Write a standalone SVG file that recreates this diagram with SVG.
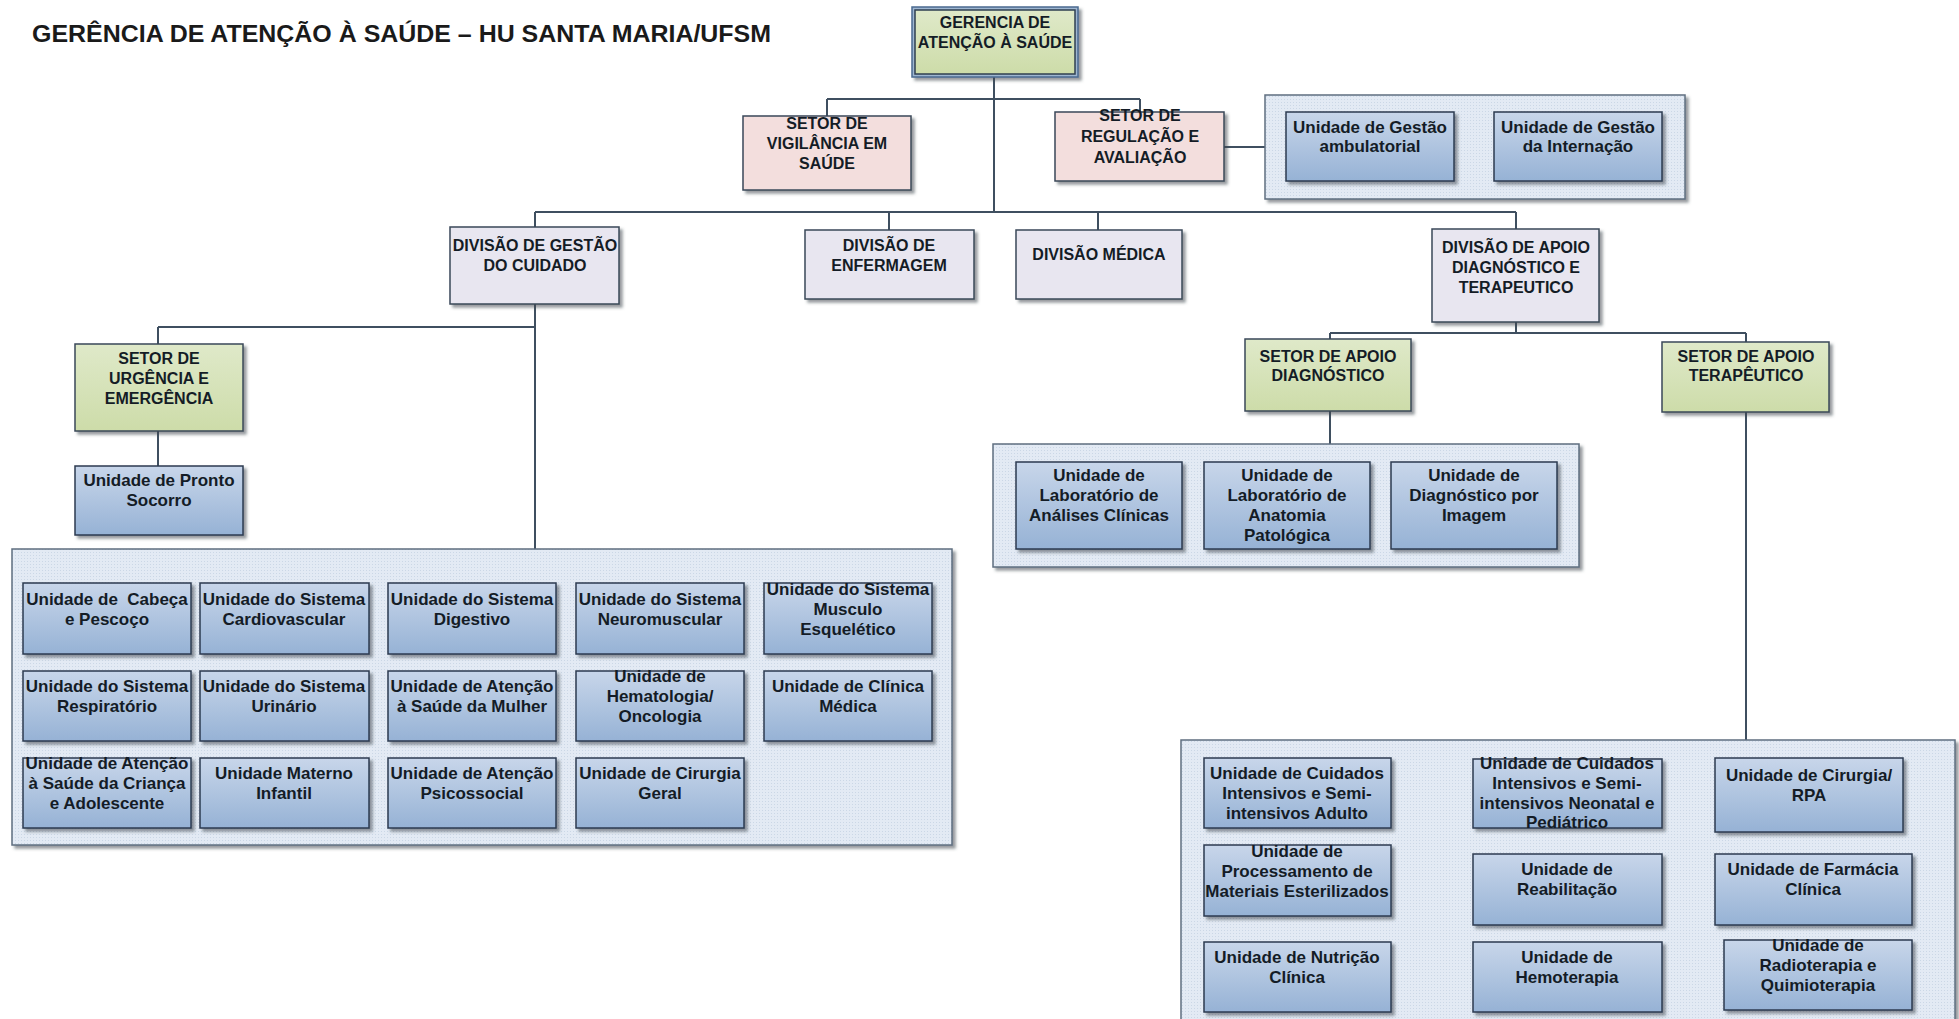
<svg xmlns="http://www.w3.org/2000/svg" width="1959" height="1019" viewBox="0 0 1959 1019">
<style>
.t{font-family:"Liberation Sans",Arial,sans-serif;font-weight:bold;font-size:17px;text-anchor:middle;fill:#141c26}
.h{font-family:"Liberation Sans",Arial,sans-serif;font-weight:bold;font-size:16px;text-anchor:middle;fill:#141c26}
.unit{fill:url(#gBlue);stroke:#2b3b50;stroke-width:1.5;filter:url(#sh)}
.green{fill:url(#gGreen);stroke:#3a4858;stroke-width:1.5;filter:url(#sh)}
.pink{fill:#f3dedd;stroke:#3a4858;stroke-width:1.5;filter:url(#sh)}
.lav{fill:#e8e6f0;stroke:#3a4858;stroke-width:1.5;filter:url(#sh)}
.grp{fill:url(#dots);stroke:#5f6f80;stroke-width:1.5;filter:url(#sh)}
.c{fill:none;stroke:#3f4f60;stroke-width:2}
</style>
<defs>
<linearGradient id="gBlue" x1="0" y1="0" x2="0" y2="1"><stop offset="0" stop-color="#c8d6ea"/><stop offset="1" stop-color="#96b2d5"/></linearGradient>
<linearGradient id="gGreen" x1="0" y1="0" x2="0" y2="1"><stop offset="0" stop-color="#dfe9c9"/><stop offset="1" stop-color="#cddca9"/></linearGradient>
<pattern id="dots" width="3" height="3" patternUnits="userSpaceOnUse"><rect width="3" height="3" fill="#e3eaf4"/><rect width="1" height="1" fill="#cbd7e6"/></pattern>
<filter id="sh" x="-10%" y="-10%" width="130%" height="130%"><feDropShadow dx="3" dy="3" stdDeviation="1.5" flood-color="#404850" flood-opacity="0.55"/></filter>
</defs>
<rect width="1959" height="1019" fill="#ffffff"/>
<text x="32" y="42" style="font-family:'Liberation Sans',Arial,sans-serif;font-weight:bold;font-size:24px;fill:#1a1a1a" textLength="739" lengthAdjust="spacingAndGlyphs">GERÊNCIA DE ATENÇÃO À SAÚDE – HU SANTA MARIA/UFSM</text>

<g id="connectors">
<path class="c" d="M994 77V212M827 99H1140M827 99V116M1140 99V112M1224 147H1265"/>
<path class="c" d="M535 212H1516M535 212V227M889 212V230M1098 212V230M1516 212V229"/>
<path class="c" d="M535 304V549M158 327H535M158 327V344M158 431V466"/>
<path class="c" d="M1516 322V333M1330 333H1746M1330 333V339M1746 333V342M1330 411V444M1746 412V740"/>
</g>

<g id="gerencia"><rect x="912" y="7" width="166" height="70" fill="#9fb6d0" stroke="#4a6a90" stroke-width="1.5" filter="url(#sh)"/><rect x="915" y="10" width="160" height="64" fill="url(#gGreen)" stroke="#2f3f50" stroke-width="1.5"/><text class="h" x="995" y="28">GERENCIA DE<tspan x="995" dy="20">ATENÇÃO À SAÚDE</tspan></text></g>

<g id="vigilancia"><rect class="pink" x="743" y="116" width="168" height="74"/><text class="h" x="827" y="129">SETOR DE<tspan x="827" dy="20">VIGILÂNCIA EM</tspan><tspan x="827" dy="20">SAÚDE</tspan></text></g>
<g id="regulacao"><rect class="pink" x="1055" y="112" width="169" height="69"/><text class="h" x="1140" y="121">SETOR DE<tspan x="1140" dy="21">REGULAÇÃO E</tspan><tspan x="1140" dy="21">AVALIAÇÃO</tspan></text></g>

<g id="grupo-gestao"><rect class="grp" x="1265" y="95" width="420" height="104"/></g>
<g id="u-ambulatorial"><rect class="unit" x="1286" y="112" width="168" height="69"/><text class="t" x="1370" y="133">Unidade de Gestão<tspan x="1370" dy="19">ambulatorial</tspan></text></g>
<g id="u-internacao"><rect class="unit" x="1494" y="112" width="168" height="69"/><text class="t" x="1578" y="133">Unidade de Gestão<tspan x="1578" dy="19">da Internação</tspan></text></g>

<g id="div-gestao"><rect class="lav" x="450" y="227" width="169" height="77"/><text class="h" x="535" y="251">DIVISÃO DE GESTÃO<tspan x="535" dy="20">DO CUIDADO</tspan></text></g>
<g id="div-enfermagem"><rect class="lav" x="805" y="230" width="169" height="69"/><text class="h" x="889" y="251">DIVISÃO DE<tspan x="889" dy="20">ENFERMAGEM</tspan></text></g>
<g id="div-medica"><rect class="lav" x="1016" y="230" width="166" height="69"/><text class="h" x="1099" y="260">DIVISÃO MÉDICA</text></g>
<g id="div-apoio"><rect class="lav" x="1432" y="229" width="167" height="93"/><text class="h" x="1516" y="253">DIVISÃO DE APOIO<tspan x="1516" dy="20">DIAGNÓSTICO E</tspan><tspan x="1516" dy="20">TERAPEUTICO</tspan></text></g>

<g id="setor-urgencia"><rect class="green" x="75" y="344" width="168" height="87"/><text class="h" x="159" y="364">SETOR DE<tspan x="159" dy="20">URGÊNCIA E</tspan><tspan x="159" dy="20">EMERGÊNCIA</tspan></text></g>
<g id="u-pronto-socorro"><rect class="unit" x="75" y="466" width="168" height="69"/><text class="t" x="159" y="486">Unidade de Pronto<tspan x="159" dy="20">Socorro</tspan></text></g>

<g id="grupo-cuidado"><rect class="grp" x="12" y="549" width="940" height="296"/></g>
<g id="u-cabeca"><rect class="unit" x="23" y="583" width="168" height="71"/><text class="t" x="107" y="605">Unidade de&#160; Cabeça<tspan x="107" dy="20">e Pescoço</tspan></text></g>
<g id="u-cardio"><rect class="unit" x="200" y="583" width="169" height="71"/><text class="t" x="284" y="605">Unidade do Sistema<tspan x="284" dy="20">Cardiovascular</tspan></text></g>
<g id="u-digestivo"><rect class="unit" x="388" y="583" width="168" height="71"/><text class="t" x="472" y="605">Unidade do Sistema<tspan x="472" dy="20">Digestivo</tspan></text></g>
<g id="u-neuro"><rect class="unit" x="576" y="583" width="168" height="71"/><text class="t" x="660" y="605">Unidade do Sistema<tspan x="660" dy="20">Neuromuscular</tspan></text></g>
<g id="u-musculo"><rect class="unit" x="764" y="583" width="168" height="71"/><text class="t" x="848" y="595">Unidade do Sistema<tspan x="848" dy="20">Musculo</tspan><tspan x="848" dy="20">Esquelético</tspan></text></g>
<g id="u-respiratorio"><rect class="unit" x="23" y="671" width="168" height="70"/><text class="t" x="107" y="692">Unidade do Sistema<tspan x="107" dy="20">Respiratório</tspan></text></g>
<g id="u-urinario"><rect class="unit" x="200" y="671" width="169" height="70"/><text class="t" x="284" y="692">Unidade do Sistema<tspan x="284" dy="20">Urinário</tspan></text></g>
<g id="u-mulher"><rect class="unit" x="388" y="671" width="168" height="70"/><text class="t" x="472" y="692">Unidade de Atenção<tspan x="472" dy="20">à Saúde da Mulher</tspan></text></g>
<g id="u-hemato"><rect class="unit" x="576" y="671" width="168" height="70"/><text class="t" x="660" y="682">Unidade de<tspan x="660" dy="20">Hematologia/</tspan><tspan x="660" dy="20">Oncologia</tspan></text></g>
<g id="u-clinica"><rect class="unit" x="764" y="671" width="168" height="70"/><text class="t" x="848" y="692">Unidade de Clínica<tspan x="848" dy="20">Médica</tspan></text></g>
<g id="u-crianca"><rect class="unit" x="23" y="758" width="168" height="70"/><text class="t" x="107" y="769">Unidade de Atenção<tspan x="107" dy="20">à Saúde da Criança</tspan><tspan x="107" dy="20">e Adolescente</tspan></text></g>
<g id="u-materno"><rect class="unit" x="200" y="758" width="169" height="70"/><text class="t" x="284" y="779">Unidade Materno<tspan x="284" dy="20">Infantil</tspan></text></g>
<g id="u-psico"><rect class="unit" x="388" y="758" width="168" height="70"/><text class="t" x="472" y="779">Unidade de Atenção<tspan x="472" dy="20">Psicossocial</tspan></text></g>
<g id="u-cirurgia-geral"><rect class="unit" x="576" y="758" width="168" height="70"/><text class="t" x="660" y="779">Unidade de Cirurgia<tspan x="660" dy="20">Geral</tspan></text></g>

<g id="setor-diagnostico"><rect class="green" x="1245" y="339" width="166" height="72"/><text class="h" x="1328" y="362">SETOR DE APOIO<tspan x="1328" dy="19">DIAGNÓSTICO</tspan></text></g>
<g id="setor-terapeutico"><rect class="green" x="1662" y="342" width="167" height="70"/><text class="h" x="1746" y="362">SETOR DE APOIO<tspan x="1746" dy="19">TERAPÊUTICO</tspan></text></g>

<g id="grupo-diagnostico"><rect class="grp" x="993" y="444" width="586" height="123"/></g>
<g id="u-analises"><rect class="unit" x="1016" y="462" width="166" height="87"/><text class="t" x="1099" y="481">Unidade de<tspan x="1099" dy="20">Laboratório de</tspan><tspan x="1099" dy="20">Análises Clínicas</tspan></text></g>
<g id="u-anatomia"><rect class="unit" x="1204" y="462" width="166" height="87"/><text class="t" x="1287" y="481">Unidade de<tspan x="1287" dy="20">Laboratório de</tspan><tspan x="1287" dy="20">Anatomia</tspan><tspan x="1287" dy="20">Patológica</tspan></text></g>
<g id="u-imagem"><rect class="unit" x="1391" y="462" width="166" height="87"/><text class="t" x="1474" y="481">Unidade de<tspan x="1474" dy="20">Diagnóstico por</tspan><tspan x="1474" dy="20">Imagem</tspan></text></g>

<g id="grupo-terapeutico"><rect class="grp" x="1181" y="740" width="774" height="300"/></g>
<g id="u-uti-adulto"><rect class="unit" x="1204" y="758" width="187" height="70"/><text class="t" x="1297" y="779">Unidade de Cuidados<tspan x="1297" dy="20">Intensivos e Semi-</tspan><tspan x="1297" dy="20">intensivos Adulto</tspan></text></g>
<g id="u-uti-neo"><rect class="unit" x="1473" y="759" width="189" height="69"/><text class="t" x="1567" y="769">Unidade de Cuidados<tspan x="1567" dy="20">Intensivos e Semi-</tspan><tspan x="1567" dy="20">intensivos Neonatal e</tspan><tspan x="1567" dy="19">Pediátrico</tspan></text></g>
<g id="u-cirurgia-rpa"><rect class="unit" x="1715" y="758" width="188" height="74"/><text class="t" x="1809" y="781">Unidade de Cirurgia/<tspan x="1809" dy="20">RPA</tspan></text></g>
<g id="u-processamento"><rect class="unit" x="1204" y="845" width="187" height="71"/><text class="t" x="1297" y="857">Unidade de<tspan x="1297" dy="20">Processamento de</tspan><tspan x="1297" dy="20">Materiais Esterilizados</tspan></text></g>
<g id="u-reabilitacao"><rect class="unit" x="1473" y="854" width="189" height="71"/><text class="t" x="1567" y="875">Unidade de<tspan x="1567" dy="20">Reabilitação</tspan></text></g>
<g id="u-farmacia"><rect class="unit" x="1715" y="854" width="197" height="71"/><text class="t" x="1813" y="875">Unidade de Farmácia<tspan x="1813" dy="20">Clínica</tspan></text></g>
<g id="u-nutricao"><rect class="unit" x="1204" y="942" width="187" height="70"/><text class="t" x="1297" y="963">Unidade de Nutrição<tspan x="1297" dy="20">Clínica</tspan></text></g>
<g id="u-hemoterapia"><rect class="unit" x="1473" y="942" width="189" height="70"/><text class="t" x="1567" y="963">Unidade de<tspan x="1567" dy="20">Hemoterapia</tspan></text></g>
<g id="u-radioterapia"><rect class="unit" x="1724" y="940" width="188" height="70"/><text class="t" x="1818" y="951">Unidade de<tspan x="1818" dy="20">Radioterapia e</tspan><tspan x="1818" dy="20">Quimioterapia</tspan></text></g>
</svg>
